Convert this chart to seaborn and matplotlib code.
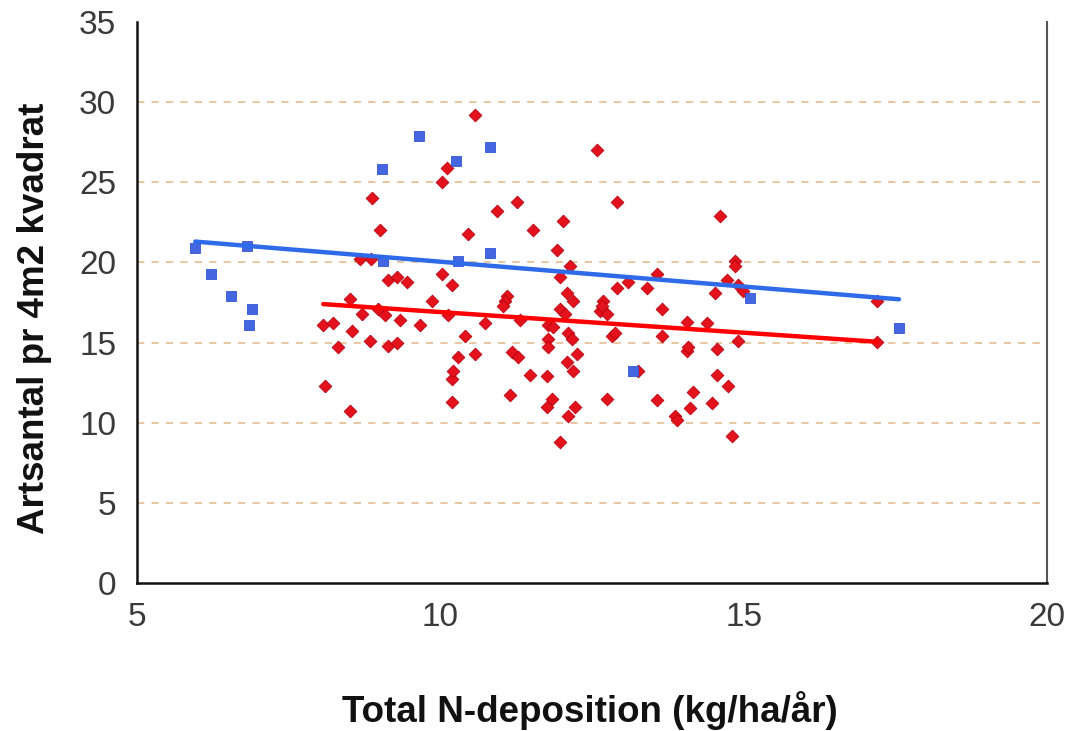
import numpy as np
import pandas as pd
import seaborn as sns
import matplotlib.pyplot as plt

# ---- data ----
red_x = [8.51, 8.71, 8.97, 9.09, 9.34, 9.66, 9.86, 10.13, 8.07, 8.23,
         8.54, 8.31, 8.84, 9.14, 9.29, 8.10, 8.51, 9.14, 9.29, 9.45,
         10.03, 10.19, 10.29, 10.19, 10.21, 10.19, 8.68, 8.85, 10.57, 12.58,
         10.11, 10.03, 8.87, 9.00, 10.46, 10.93, 11.26, 11.53, 12.02, 11.92,
         12.91, 12.14, 11.97, 12.09, 12.91, 11.10, 14.61, 14.86, 14.86, 14.72,
         13.57, 13.10, 13.40, 14.53, 14.90, 14.99, 11.07, 11.03, 12.19, 11.97,
         12.05, 12.68, 12.63, 10.74, 11.31, 11.77, 11.86, 12.10, 12.17, 11.77,
         11.77, 10.41, 10.57, 11.18, 11.28, 12.25, 12.09, 12.19, 11.48, 11.76,
         11.15, 11.84, 11.76, 12.22, 12.10, 12.75, 11.97, 12.66, 12.75, 13.65,
         14.07, 14.40, 12.83, 12.88, 13.65, 14.90, 14.07, 14.08, 14.56, 13.26,
         14.56, 14.74, 13.57, 14.16, 14.11, 14.48, 13.87, 13.90, 14.81, 17.20,
         17.20]
red_y = [17.7, 16.8, 17.1, 16.7, 16.4, 16.1, 17.6, 16.7, 16.1, 16.2,
         15.7, 14.7, 15.1, 14.8, 15.0, 12.3, 10.7, 18.9, 19.1, 18.8,
         19.3, 18.6, 14.1, 12.7, 13.2, 11.3, 20.2, 20.2, 29.2, 27.0,
         25.9, 25.0, 24.0, 22.0, 21.8, 23.2, 23.8, 22.0, 22.6, 20.8,
         23.8, 19.8, 19.1, 18.1, 18.4, 17.9, 22.9, 20.1, 19.8, 18.9,
         19.3, 18.8, 18.4, 18.1, 18.6, 18.2, 17.6, 17.3, 17.6, 17.1,
         16.8, 17.6, 17.0, 16.2, 16.4, 16.1, 16.0, 15.6, 15.2, 15.2,
         14.7, 15.4, 14.3, 14.4, 14.1, 14.3, 13.8, 13.2, 13.0, 12.9,
         11.7, 11.5, 11.0, 11.0, 10.4, 11.5, 8.8, 17.3, 16.8, 17.1,
         16.3, 16.2, 15.4, 15.6, 15.4, 15.1, 14.5, 14.7, 14.6, 13.2,
         13.0, 12.3, 11.4, 11.9, 10.9, 11.2, 10.4, 10.2, 9.2, 17.6,
         15.05]

blue_x = [5.96, 6.22, 6.55, 6.82, 6.90, 6.85, 9.04, 9.06, 9.65, 10.26,
          10.29, 10.82, 10.82, 13.18, 15.10, 17.56]
blue_y = [20.9, 19.3, 17.9, 21.0, 17.1, 16.1, 25.8, 20.1, 27.9, 26.3,
          20.1, 27.2, 20.6, 13.2, 17.8, 15.9]

# linear trend lines (endpoints)
red_trend_x = [8.07, 17.20]
red_trend_y = [17.4, 15.05]
blue_trend_x = [5.96, 17.56]
blue_trend_y = [21.3, 17.7]

x_ticks = [5, 10, 15, 20]
y_ticks = [0, 5, 10, 15, 20, 25, 30, 35]
grid_levels = [5, 10, 15, 20, 25, 30]

x_label = "Total N-deposition (kg/ha/år)"
y_label = "Artsantal pr 4m2 kvadrat"

# ---- plotting ----
sns.set_theme(style="white")
plt.rcParams['font.family'] = ['Liberation Sans', 'DejaVu Sans']

fig = plt.figure(figsize=(10.72, 7.31), dpi=100)
ax = fig.add_axes([137 / 1072, 1 - 583 / 731, 910 / 1072, 561 / 731])

for g in grid_levels:
    ax.axhline(g, color='#e6c39a', lw=1.3, ls=(0, (4, 4)), zorder=0)

red_df = pd.DataFrame({'x': red_x, 'y': red_y})
blue_df = pd.DataFrame({'x': blue_x, 'y': blue_y})

sns.scatterplot(data=red_df, x='x', y='y', ax=ax, marker='D', s=42,
                color='#e3121c', edgecolor='#b8000e', linewidth=0.6, zorder=3)
sns.scatterplot(data=blue_df, x='x', y='y', ax=ax, marker='s', s=62,
                color='#4466e0', edgecolor='#3355d0', linewidth=0.6, zorder=3)

sns.lineplot(x=red_trend_x, y=red_trend_y, ax=ax, color='#ff0000', lw=3.2,
             zorder=4, estimator=None)
sns.lineplot(x=blue_trend_x, y=blue_trend_y, ax=ax, color='#2f6ae8', lw=3.2,
             zorder=4, estimator=None)

ax.set_xlim(5, 20)
ax.set_ylim(0, 35)
ax.set_xticks(x_ticks)
ax.set_yticks(y_ticks)
ax.set_xlabel('')
ax.set_ylabel('')

for side in ['left', 'bottom']:
    ax.spines[side].set_color('#111111')
    ax.spines[side].set_linewidth(1.8)
ax.spines['right'].set_color('#555555')
ax.spines['right'].set_linewidth(1.5)
ax.spines['top'].set_visible(False)

ax.tick_params(axis='both', which='major', direction='out', length=9,
               width=1.6, color='#111111', labelsize=24, labelcolor='#3a3a3a')
ax.tick_params(axis='y', pad=6)
ax.tick_params(axis='x', pad=5)

fig.text(35 / 1072, 1 - 318 / 731, y_label, rotation=90, ha='center',
         va='center', fontsize=26.5, fontweight='bold', color='#111111')
fig.text(590 / 1072, 1 - 710 / 731, x_label, ha='center', va='center',
         fontsize=26.5, fontweight='bold', color='#111111')

fig.savefig('out.png', dpi=100)
